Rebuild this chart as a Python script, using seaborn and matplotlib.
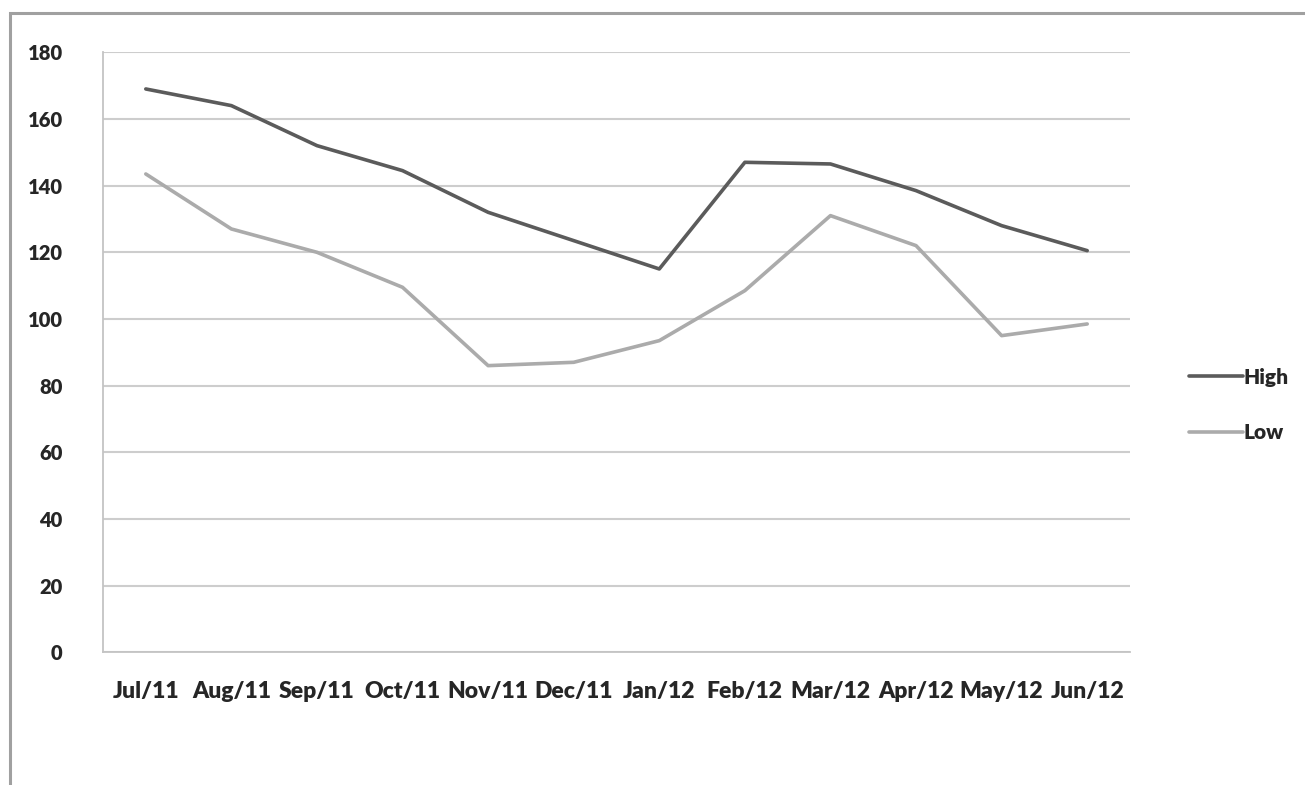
import matplotlib
matplotlib.use("Agg")
import matplotlib.pyplot as plt
from matplotlib.patches import Rectangle
import pandas as pd
import seaborn as sns

months = ["Jul/11", "Aug/11", "Sep/11", "Oct/11", "Nov/11", "Dec/11",
          "Jan/12", "Feb/12", "Mar/12", "Apr/12", "May/12", "Jun/12"]
high = [169, 164, 152, 144.5, 132, 123.5, 115, 147, 146.5, 138.5, 128, 120.5]
low = [143.5, 127, 120, 109.5, 86, 87, 93.5, 108.5, 131, 122, 95, 98.5]
series_names = ["High", "Low"]
series_colors = ["#5b5b5b", "#ababab"]
y_ticks = [0, 20, 40, 60, 80, 100, 120, 140, 160, 180]

df = pd.DataFrame({
    "month": months * 2,
    "pos": list(range(len(months))) * 2,
    "value": high + low,
    "series": [series_names[0]] * len(months) + [series_names[1]] * len(months),
})

sns.set_style("white")
plt.rcParams["font.family"] = ["Lato", "DejaVu Sans"]
plt.rcParams["font.weight"] = "heavy"

fig = plt.figure(figsize=(13.05, 7.85), dpi=100)
ax = fig.add_axes([103 / 1305, 1 - 652.3 / 785, (1130 - 103) / 1305, 600 / 785])

# outer chart frame
fig.patches.append(Rectangle((10 / 1305, -0.05), 1.1, 1 - 13 / 785 + 0.05,
                             transform=fig.transFigure, fill=False,
                             edgecolor="#a0a0a0", linewidth=2.2, zorder=0))

sns.lineplot(data=df, x="pos", y="value", hue="series",
             palette=dict(zip(series_names, series_colors)),
             linewidth=2.6, ax=ax, legend=True)

ax.set_xlim(-0.5, len(months) - 0.5)
ax.set_ylim(0, 180)
ax.set_yticks(y_ticks)
ax.set_yticklabels([str(t) for t in y_ticks], fontsize=14.5, fontweight="heavy")
ax.yaxis.grid(True, color="#cdcdcd", linewidth=1.5)
ax.set_axisbelow(True)

ax.set_xticks(range(len(months)))
ax.set_xticklabels(months, fontsize=16.5, fontweight="heavy")
ax.set_xticks([i - 0.5 for i in range(len(months) + 1)], minor=True)
ax.tick_params(axis="x", which="major", length=0, pad=21)
ax.tick_params(axis="x", which="minor", length=8, width=1.3, color="#c4c4c4", direction="out")
ax.tick_params(axis="y", which="major", length=7, width=1.3, color="#cdcdcd", pad=22)

for side in ["top", "right"]:
    ax.spines[side].set_visible(False)
for side in ["left", "bottom"]:
    ax.spines[side].set_color("#c4c4c4")
    ax.spines[side].set_linewidth(1.3)

ax.set_xlabel("")
ax.set_ylabel("")

leg = ax.legend(loc="center left", bbox_to_anchor=(1170 / 1305, 1 - 405 / 785),
                bbox_transform=fig.transFigure, frameon=False,
                fontsize=15, handlelength=2.6, handletextpad=0.05,
                labelspacing=1.75)
for text in leg.get_texts():
    text.set_fontweight("heavy")

fig.savefig("out.png", dpi=100, facecolor="white")
